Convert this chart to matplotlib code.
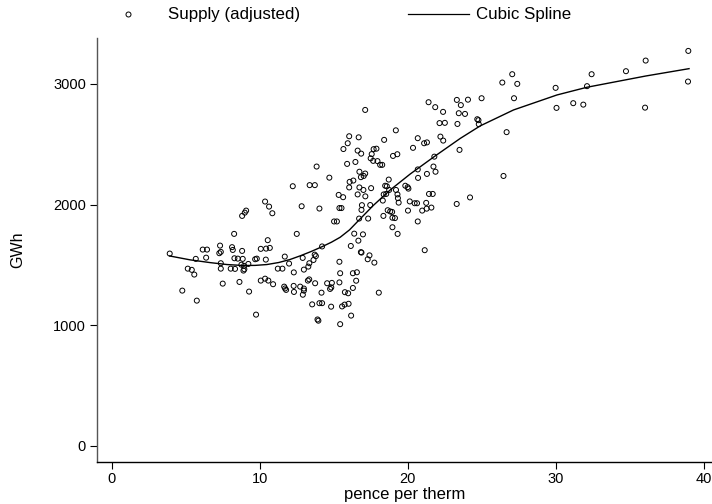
import matplotlib
matplotlib.use("Agg")
import matplotlib.pyplot as plt
from matplotlib.lines import Line2D

plt.rcParams['font.family'] = ['Liberation Sans', 'DejaVu Sans']

# Scatter: price (pence per therm) vs supply (GWh)
price = [3.93, 4.78, 5.15, 5.42, 5.59, 5.69, 5.76, 6.16, 6.45, 6.39,
         7.28, 7.38, 7.33, 7.38, 7.38, 7.51, 8.05, 8.34, 8.14, 8.19,
         8.28, 8.30, 8.53, 8.64, 8.82, 8.86, 8.77, 8.95, 8.91, 8.97,
         9.24, 8.82, 9.00, 9.09, 9.29, 9.70, 9.81, 9.76, 10.08, 10.44,
         10.69, 10.55, 10.42, 10.08, 10.37, 10.59, 10.91, 10.37, 10.64, 10.86,
         11.23, 11.54, 11.70, 11.66, 11.72, 11.79, 11.99, 12.24, 13.38, 13.73,
         13.85, 14.71, 15.66, 15.95, 16.05, 15.91, 15.34, 15.64, 16.08, 16.05,
         12.84, 14.04, 15.39, 15.53, 15.03, 15.22, 12.51, 14.22, 12.91, 13.72,
         13.80, 13.64, 13.36, 13.29, 12.99, 12.31, 15.39, 15.44, 15.39, 13.26,
         13.35, 13.75, 14.56, 14.88, 14.76, 14.84, 12.30, 12.32, 12.74, 12.99,
         12.99, 12.92, 14.18, 15.76, 15.98, 13.55, 14.04, 14.22, 14.83, 15.57,
         15.74, 16.01, 16.18, 13.91, 13.97, 15.44, 16.16, 16.30,
         17.13, 19.20, 20.68, 16.69, 16.62, 16.86, 18.41, 17.70, 17.89, 17.57,
         17.50, 17.67, 17.96, 18.14, 18.28, 19.01, 19.30, 20.36, 16.47, 16.74,
         17.13, 16.84, 17.03, 18.72, 20.68, 20.70, 16.33, 16.74, 17.53, 17.01,
         18.48, 18.59, 19.84, 20.00, 20.05, 18.75, 16.62, 17.14, 18.38, 18.55,
         19.21, 19.31, 19.34, 19.39, 18.32, 16.91, 17.47, 16.88, 16.72, 17.33,
         16.39, 16.98, 16.67, 16.84, 16.88, 17.42, 17.30, 17.75, 16.30, 16.57,
         16.52, 18.05, 18.36, 18.65, 18.82, 18.95, 18.97, 19.14, 18.97, 19.32,
         20.02, 20.14, 20.47, 20.63, 20.68,
         21.41, 21.86, 22.39, 23.32, 23.59, 24.07, 23.45, 23.87, 22.15, 22.51,
         23.36, 24.70, 24.78, 24.80, 22.21, 22.40, 21.11, 21.30, 23.50, 21.80,
         21.74, 21.88, 21.30, 21.44, 21.69, 21.25, 21.60, 21.28, 20.98, 23.31,
         24.21, 21.15,
         24.99, 26.39, 27.06, 27.40, 27.18, 26.68, 26.47, 29.99, 30.05, 31.18,
         31.86, 32.11, 32.42, 34.74, 36.07, 36.03, 38.95, 38.93]

supply = [1594, 1287, 1469, 1459, 1420, 1550, 1204, 1627, 1627, 1560,
          1597, 1608, 1660, 1514, 1469, 1345, 1469, 1467, 1647, 1624,
          1757, 1555, 1552, 1359, 1616, 1550, 1502, 1492, 1453, 1464,
          1508, 1906, 1933, 1950, 1279, 1547, 1552, 1088, 1633, 1635,
          1641, 1705, 1544, 1370, 1386, 1370, 1340, 2025, 1983, 1928,
          1469, 1469, 1569, 1320, 1305, 1293, 1511, 2152, 2161, 2161,
          2315, 2223, 2460, 2508, 2566, 2337, 2080, 2061, 2188, 2142,
          1986, 1967, 1971, 1971, 1860, 1860, 1757, 1653, 1558, 1585,
          1573, 1541, 1514, 1486, 1461, 1438, 1526, 1431, 1355, 1370,
          1380, 1348, 1348, 1351, 1301, 1313, 1326, 1276, 1320, 1304,
          1287, 1253, 1270, 1274, 1265, 1173, 1183, 1183, 1154, 1156,
          1171, 1178, 1080, 1048, 1038, 1009, 1657, 1309,
          2784, 2615, 2550, 2557, 2447, 2422, 2536, 2459, 2463, 2418,
          2383, 2362, 2360, 2329, 2329, 2403, 2417, 2470, 2353, 2272,
          2257, 2227, 2237, 2207, 2291, 2221, 2199, 2142, 2136, 2121,
          2156, 2152, 2156, 2144, 2132, 2121, 2084, 2068, 2084, 2088,
          2121, 2084, 2053, 2016, 2033, 1995, 1996, 1956, 1884, 1884,
          1759, 1753, 1701, 1606, 1602, 1579, 1547, 1519, 1431, 1439,
          1369, 1270, 1906, 1953, 1943, 1939, 1891, 1888, 1812, 1757,
          1950, 2026, 2011, 2011, 1860,
          2848, 2807, 2768, 2867, 2824, 2869, 2757, 2751, 2675, 2677,
          2668, 2707, 2699, 2666, 2563, 2530, 2508, 2515, 2453, 2397,
          2315, 2272, 2254, 2088, 2088, 2014, 1975, 1966, 1950, 2005,
          2059, 1622,
          2881, 3011, 3080, 3000, 2881, 2600, 2237, 2967, 2801, 2840,
          2828, 2981, 3080, 3105, 3193, 2803, 3273, 3019]

# Cubic spline fit
spline_x = [3.93, 5.3, 6.66, 7.8, 8.91, 9.7, 10.49, 11.3, 12.06, 12.74,
            13.5, 14.22, 14.85, 15.44, 16.07, 16.70, 17.69, 18.82, 20.17, 21.79,
            23.55, 24.9, 27.15, 30.08, 32.11, 36.07, 39.0]
spline_y = [1574, 1542, 1519, 1503, 1495, 1496, 1503, 1520, 1545, 1575,
            1612, 1651, 1688, 1729, 1790, 1870, 1994, 2121, 2253, 2397,
            2548, 2652, 2784, 2908, 2972, 3065, 3126]

x_ticks = [0, 10, 20, 30, 40]
y_ticks = [0, 1000, 2000, 3000]

fig = plt.figure(figsize=(7.12, 5.04), dpi=100)
ax = fig.add_axes([97 / 712, 42 / 504, 1 - 97 / 712, (462 - 38) / 504])

ax.scatter(price, supply, s=13, facecolors='none', edgecolors='black',
           linewidths=0.7, zorder=3)
ax.plot(spline_x, spline_y, color='black', lw=1.0, zorder=4)

ax.set_xlim(-0.98, 40.55)
ax.set_ylim(-133, 3380)
ax.set_xticks(x_ticks)
ax.set_yticks(y_ticks)
ax.tick_params(axis='both', direction='out', length=5, width=0.8,
               labelsize=10.5, colors='black')
ax.tick_params(axis='y', pad=3)
ax.tick_params(axis='x', pad=2)

for side in ['top', 'right']:
    ax.spines[side].set_visible(False)
ax.spines['left'].set_color('#555555')
ax.spines['left'].set_linewidth(1.0)
ax.spines['bottom'].set_color('black')
ax.spines['bottom'].set_linewidth(1.0)

ax.set_xlabel('pence per therm', fontsize=12, labelpad=1)
ax.set_ylabel('GWh', fontsize=11.5, labelpad=20)

# Legend above the plot
fig.add_artist(Line2D([128 / 712], [1 - 14 / 504], marker='o', markersize=3.6,
                      markerfacecolor='none', markeredgecolor='black',
                      markeredgewidth=0.7, linestyle='none',
                      transform=fig.transFigure))
fig.text(168 / 712, 1 - 14 / 504, 'Supply (adjusted)', fontsize=12.2,
         va='center', ha='left')
fig.add_artist(Line2D([408 / 712, 469 / 712], [1 - 14 / 504, 1 - 14 / 504],
                      color='black', lw=0.9, transform=fig.transFigure))
fig.text(476 / 712, 1 - 14 / 504, 'Cubic Spline', fontsize=12.2,
         va='center', ha='left')

fig.savefig('out.png', dpi=100)
